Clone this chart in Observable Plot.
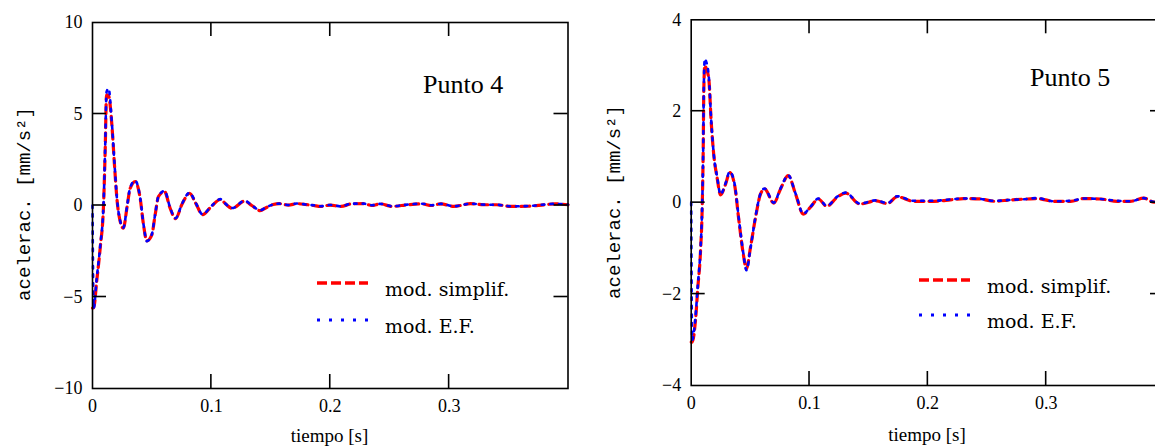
<!DOCTYPE html>
<html><head><meta charset="utf-8">
<script src="https://cdn.jsdelivr.net/npm/d3@7"></script>
<script src="https://cdn.jsdelivr.net/npm/@observablehq/plot@0.6"></script>
<style>
html,body{margin:0;padding:0;background:#fff;overflow:hidden;}
#wrap{position:relative;width:1155px;height:448px;overflow:hidden;background:#fff;}
.chart{position:absolute;top:0;}
#overlay{position:absolute;left:0;top:0;pointer-events:none;}
</style></head><body><div id="wrap"></div>
<script>
// ---------- data: Punto 4 ----------
const time4 = [0, 0.001, 0.0035, 0.0065, 0.0093, 0.0107, 0.0118, 0.0135, 0.0163, 0.0185,
  0.0205, 0.0233, 0.026, 0.0289, 0.0317, 0.0359, 0.0401, 0.0429, 0.0457, 0.0499,
  0.0527, 0.0555, 0.0606, 0.0653, 0.0698, 0.0755, 0.0816, 0.087, 0.0925, 0.1,
  0.1077, 0.1125, 0.1175, 0.128, 0.134, 0.141, 0.146, 0.152, 0.157, 0.165,
  0.172, 0.18, 0.186, 0.192, 0.2, 0.209, 0.218, 0.228, 0.235, 0.242,
  0.252, 0.265, 0.277, 0.285, 0.293, 0.304, 0.318, 0.329, 0.34, 0.352,
  0.366, 0.38, 0.389, 0.4];
const simplif4 = [-5.6, -5.6, -4.15, -2.3, 0.05, 3.1, 6.05, 6.0, 4.4, 2.2,
  0.4, -0.87, -1.24, -0.15, 0.94, 1.31, 0.4, -1.05, -1.93, -1.6,
  -0.51, 0.49, 0.76, -0.15, -0.72, 0.1, 0.67, 0.1, -0.5, -0.05,
  0.33, 0.05, -0.15, 0.24, 0.0, -0.28, -0.12, 0.05, 0.1, 0.02,
  0.1, 0.05, 0.0, -0.05, 0.02, -0.05, 0.09, 0.1, 0.0, 0.09,
  -0.05, 0.04, 0.09, 0.0, 0.09, -0.05, 0.1, 0.04, 0.04, -0.05,
  -0.04, 0.04, 0.09, 0.04];
const ef4 = [0, -5.6, -4.0, -2.2, 0.1, 3.3, 6.2, 6.4, 4.5, 2.3,
  0.45, -0.85, -1.22, -0.12, 0.98, 1.36, 0.42, -1.02, -1.95, -1.58,
  -0.48, 0.5, 0.8, -0.12, -0.7, 0.12, 0.7, 0.12, -0.48, -0.03,
  0.35, 0.06, -0.14, 0.26, 0.01, -0.26, -0.1, 0.06, 0.1, 0.03,
  0.11, 0.05, 0.01, -0.04, 0.03, -0.04, 0.1, 0.1, 0.01, 0.09,
  -0.04, 0.05, 0.1, 0.01, 0.09, -0.04, 0.1, 0.05, 0.04, -0.04,
  -0.03, 0.05, 0.09, 0.05];

// ---------- data: Punto 5 ----------
const time5 = [0, 0.0008, 0.0036, 0.0056, 0.0079, 0.0093, 0.0101, 0.0107, 0.0115, 0.0125,
  0.0149, 0.0169, 0.0191, 0.022, 0.0248, 0.029, 0.0326, 0.0366, 0.0403, 0.044,
  0.0467, 0.0501, 0.0544, 0.0586, 0.062, 0.0698, 0.0755, 0.082, 0.0882, 0.0947,
  0.1008, 0.1075, 0.1145, 0.1234, 0.1305, 0.1425, 0.156, 0.166, 0.174, 0.188,
  0.205, 0.219, 0.23, 0.2446, 0.256, 0.27, 0.284, 0.2925, 0.3065, 0.3206,
  0.332, 0.346, 0.36, 0.371, 0.3826, 0.391, 0.4];
const simplif5 = [-3.05, -3.05, -2.58, -1.86, -1.05, -0.1, 1.06, 2.52, 3.0, 2.95,
  2.7, 1.77, 1.04, 0.53, 0.17, 0.4, 0.66, 0.4, -0.39, -1.12,
  -1.45, -0.98, -0.32, 0.19, 0.3, -0.01, 0.3, 0.59, 0.19, -0.25,
  -0.1, 0.08, -0.08, 0.12, 0.21, -0.03, 0.04, -0.02, 0.13, 0.03,
  0.03, 0.06, 0.09, 0.08, 0.03, 0.06, 0.08, 0.09, 0.03, 0.03,
  0.09, 0.08, 0.03, 0.03, 0.1, 0.01, 0.04];
const ef5 = [0, -3.0, -2.5, -1.8, -1.0, -0.05, 1.1, 2.6, 3.15, 3.1,
  2.75, 1.8, 1.05, 0.55, 0.18, 0.42, 0.68, 0.42, -0.36, -1.1,
  -1.48, -1.0, -0.3, 0.2, 0.31, 0.0, 0.31, 0.6, 0.2, -0.24,
  -0.09, 0.09, -0.07, 0.13, 0.22, -0.02, 0.05, -0.01, 0.14, 0.04,
  0.04, 0.07, 0.09, 0.08, 0.04, 0.06, 0.08, 0.1, 0.03, 0.04,
  0.09, 0.08, 0.04, 0.03, 0.1, 0.02, 0.04];

// ---------- ticks & labels ----------
const xDomain = [0, 0.4];
const xTicks = [0, 0.1, 0.2, 0.3];
const yDomain4 = [-10, 10];
const yTicks4 = [-10, -5, 0, 5, 10];
const yDomain5 = [-4, 4];
const yTicks5 = [-4, -2, 0, 2, 4];
const seriesNames = ["mod. simplif.", "mod. E.F."];
const titles = ["Punto 4", "Punto 5"];
const xTitle = "tiempo [s]";
const yTitle = "acelerac. [mm/s²]";

const TICK = 14;
const RED = "#ff0000", BLUE = "#0000ff";

function makeChart({time, red, blue, yDomain, yTicks, width, height, marginLeft, marginRight, marginTop, marginBottom}) {
  const redData = time.map((t, i) => ({t, v: red[i]}));
  const blueData = time.map((t, i) => ({t, v: blue[i]}));
  return Plot.plot({
    width, height, marginLeft, marginRight, marginTop, marginBottom,
    x: {domain: xDomain},
    y: {domain: yDomain},
    style: {fontFamily: "'Liberation Serif', serif", fontSize: "18px", color: "black", background: "transparent"},
    marks: [
      Plot.line(redData, {x: "t", y: "v", stroke: RED, strokeWidth: 3.2, strokeDasharray: "9,5", curve: "monotone-x"}),
      Plot.line(blueData, {x: "t", y: "v", stroke: BLUE, strokeWidth: 2.6, strokeDasharray: "2.6,6", curve: "monotone-x"}),
      Plot.frame({stroke: "black", strokeWidth: 1.6}),
      Plot.axisX(xTicks, {anchor: "bottom", tickSize: 0, tickPadding: 11, label: null,
        tickFormat: d => d === 0 ? "0" : d.toFixed(1)}),
      Plot.axisY(yTicks, {anchor: "left", tickSize: 0, tickPadding: 10, label: null,
        tickFormat: d => d < 0 ? "\u2212" + (-d) : String(d)})
    ]
  });
}

const wrap = document.getElementById("wrap");

const specs = [
  {time: time4, red: simplif4, blue: ef4, yDomain: yDomain4, yTicks: yTicks4,
   width: 580, height: 448, marginLeft: 92, marginRight: 12.5, marginTop: 22, marginBottom: 60, left: 0},
  {time: time5, red: simplif5, blue: ef5, yDomain: yDomain5, yTicks: yTicks5,
   width: 600, height: 448, marginLeft: 110.7, marginRight: 16, marginTop: 19.3, marginBottom: 63, left: 580}
];
const charts = specs.map(s => {
  const c = makeChart(s);
  c.classList.add("chart"); c.style.left = s.left + "px";
  wrap.appendChild(c);
  return c;
});

// ---------- overlay: inner ticks (via the plots' scales), titles, legends ----------
const svg = d3.select(wrap).append("svg").attr("id", "overlay").attr("width", 1155).attr("height", 448);

function scaleFn(chart, name) {
  const s = chart.scale(name);
  if (s && typeof s.apply === "function") return v => s.apply(v);
  return d3.scaleLinear(s.domain, s.range);
}

charts.forEach((c, k) => {
  const s = specs[k];
  const fx = scaleFn(c, "x"), fy = scaleFn(c, "y");
  const x0 = fx(xDomain[0]) + s.left, x1 = fx(xDomain[1]) + s.left;
  const yb = fy(s.yDomain[0]), yt = fy(s.yDomain[1]);
  const g = svg.append("g").attr("stroke", "#000").attr("stroke-width", 1.6);
  xTicks.filter(d => d > xDomain[0]).forEach(v => {
    const x = fx(v) + s.left;
    g.append("line").attr("x1", x).attr("x2", x).attr("y1", yb).attr("y2", yb - TICK);
    g.append("line").attr("x1", x).attr("x2", x).attr("y1", yt).attr("y2", yt + TICK);
  });
  s.yTicks.slice(1, -1).forEach(v => {
    const y = fy(v);
    g.append("line").attr("x1", x0).attr("x2", x0 + TICK).attr("y1", y).attr("y2", y);
    g.append("line").attr("x1", x1).attr("x2", x1 - TICK).attr("y1", y).attr("y2", y);
  });
});

const panels = [
  {title: titles[0], tx: 423, ty: 93, yl: [25, 204], xl: [329.5, 442], lx: 317, ly: [283, 320], tyBase: [296, 333]},
  {title: titles[1], tx: 1030, ty: 86, yl: [615, 202], xl: [927, 441], lx: 919, ly: [280, 315], tyBase: [293, 328]}
];

panels.forEach(p => {
  svg.append("text").attr("x", p.tx).attr("y", p.ty)
    .attr("font-family", "'Liberation Serif', serif").attr("font-size", 26).text(p.title);
  svg.append("text").attr("transform", `translate(${p.yl[0]},${p.yl[1]}) rotate(-90)`)
    .attr("text-anchor", "middle").attr("dominant-baseline", "central")
    .attr("font-family", "'Liberation Mono', monospace").attr("font-size", 19).text(yTitle);
  svg.append("text").attr("x", p.xl[0]).attr("y", p.xl[1]).attr("text-anchor", "middle")
    .attr("font-family", "'Liberation Serif', serif").attr("font-size", 19).text(xTitle);
  svg.append("line").attr("x1", p.lx).attr("x2", p.lx + 51).attr("y1", p.ly[0]).attr("y2", p.ly[0])
    .attr("stroke", RED).attr("stroke-width", 3.5).attr("stroke-dasharray", "10,4");
  svg.append("line").attr("x1", p.lx).attr("x2", p.lx + 51).attr("y1", p.ly[1]).attr("y2", p.ly[1])
    .attr("stroke", BLUE).attr("stroke-width", 3).attr("stroke-dasharray", "3,9");
  seriesNames.forEach((name, i) => {
    svg.append("text").attr("x", p.lx + 68).attr("y", p.tyBase[i])
      .attr("font-family", "'DejaVu Serif', serif").attr("font-size", 19).text(name);
  });
});
</script>
</body></html>
